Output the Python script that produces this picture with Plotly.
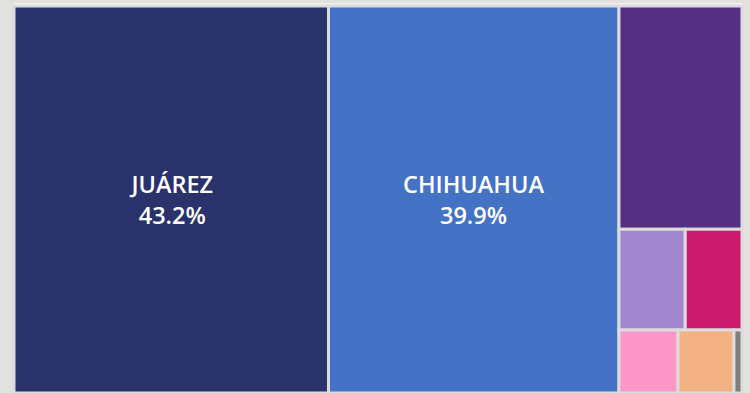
import plotly.graph_objects as go

# Share of total by municipality (percent)
municipios = ["JUÁREZ", "CHIHUAHUA", "CUAUHTÉMOC", "DELICIAS", "HIDALGO DEL PARRAL",
              "NUEVO CASAS GRANDES", "CAMARGO", "OTROS"]
porcentaje = [43.2, 39.9, 9.75, 2.37, 2.03, 1.32, 1.25, 0.18]
colores = ["#29326b", "#4472c4", "#552f83", "#a287cf", "#cc1b6f",
           "#fd97c8", "#f4b183", "#7f7f7f"]
# Only the two largest tiles carry a label
etiquetas = [f"{m}<br>{p:.1f}%" if p > 20 else "" for m, p in zip(municipios, porcentaje)]

fig = go.Figure(go.Treemap(
    labels=municipios,
    parents=[""] * len(municipios),
    values=porcentaje,
    text=etiquetas,
    textinfo="text",
    sort=False,
    marker=dict(colors=colores, line=dict(color="#dcdcdc", width=3),
                pad=dict(t=0, l=0, r=0, b=0)),
    textfont=dict(family="Open Sans", size=23.5, color="white", weight=600),
    textposition="middle center",
    tiling=dict(packing="squarify", pad=0),
    pathbar=dict(visible=False),
    hoverinfo="label+value",
))

fig.update_layout(
    width=750, height=393,
    margin=dict(l=14, r=8, t=6, b=0),
    paper_bgcolor="#e3e1dd",
    shapes=[dict(type="rect", xref="paper", yref="paper", x0=0, x1=1, y0=0, y1=1.005,
                 line=dict(color="#f2f1ef", width=2), layer="below")],
)

fig.write_html("out.html")
